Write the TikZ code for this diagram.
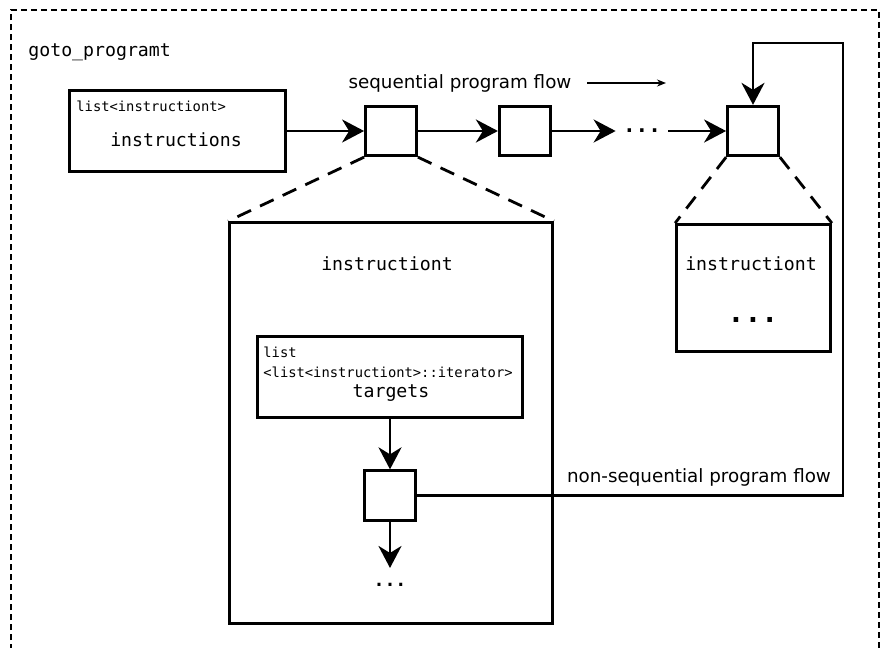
\documentclass[tikz,border=0pt]{standalone}
\usepackage{fontspec}
\setmainfont{DejaVu Sans}
\setmonofont{DejaVu Sans Mono}
\usetikzlibrary{arrows.meta,positioning}

\begin{document}
\begin{tikzpicture}[x=1pt,y=-1pt,>={Stealth[length=22pt,width=23pt,inset=7pt]},
  line width=2.8pt,node distance=80pt,
  cell/.style={draw,rectangle,minimum width=51pt,minimum height=49.5pt,inner sep=0pt},
  holder/.style={draw,rectangle,inner sep=0pt},
  monotext/.style={font=\fontsize{18.2}{20}\selectfont\ttfamily},
  monosmall/.style={font=\fontsize{13.8}{16}\selectfont\ttfamily,anchor=west,inner sep=0pt},
  flowtext/.style={font=\fontsize{18.3}{20}\selectfont},
  zoomline/.style={dash pattern=on 15pt off 10pt}]
\useasboundingbox (0,0) rectangle (884,648);
\clip (0,0) rectangle (884,648);

% outer frame
\draw[line width=2.2pt,dash pattern=on 6pt off 4pt] (11,660) -- (11,10) -- (879,10) -- (879,660);
\node[monotext,anchor=west,inner sep=0pt] (title) at (27,52) {goto\_programt};

% the list
\node[holder,minimum width=216pt,minimum height=81pt] (instr) at (177.5,131) {};
\node[monosmall] (instrtype) at (75,106) {list<instructiont>};
\node[monotext] (instrname) at (176,140) {instructions};

% sequential flow
\node[cell] (c1) at (391,131) {};
\node[cell] (c2) [right=of c1] {};
\node[font=\fontsize{21}{22}\selectfont\ttfamily\bfseries,inner sep=6pt] (seqdots) at (642,131) {...};
\node[cell] (c3) at (753,131) {};
\node[flowtext] (seqlbl) at (460,83) {sequential program flow};
\coordinate (seqfrom) at (587,83);
\coordinate (seqto) at (666,83);
\draw[line width=1.8pt,-{Stealth[length=9pt,width=7pt]}] (seqfrom) -- (seqto);

\path (instr) edge[->] (c1)
(c1) edge[->] (c2)
(c2) edge[->] (seqdots)
(seqdots) edge[->] (c3);

% first instruction
\node[holder,minimum width=323pt,minimum height=401pt] (ibox) at (391,423) {};
\node[monotext] (iname) at (387,264) {instructiont};
\node[holder,minimum width=265pt,minimum height=81pt] (tbox) at (390,377) {};
\node[monosmall] (ttype1) at (262,352) {list};
\node[monosmall] (ttype2) at (262,372) {<list<instructiont>::iterator>};
\node[monotext] (tname) at (391,393) {targets};
\node[cell] (c4) at (390,495.5) {};
\node[monotext,font=\fontsize{18.2}{20}\selectfont\ttfamily\bfseries,inner ysep=14pt] (imore) at (390,585) {...};
\path (tbox) edge[->] (c4)
(c4) edge[->] (imore);
\draw[zoomline] (c1.south west) -- (ibox.north west)
(c1.south east) -- (ibox.north east);

% last instruction
\node[holder,minimum width=154pt,minimum height=127pt] (rbox) at (753.5,288) {};
\node[monotext] (rname) at (751,264) {instructiont};
\node[font=\fontsize{28}{30}\selectfont\ttfamily\bfseries] (rmore) at (753,320) {...};
\draw[zoomline] (c3.south west) -- (rbox.north west)
(c3.south east) -- (rbox.north east);

% jump
\coordinate (loopturn) at (843,43);
\draw[->] (c4.east) -| (loopturn) -| (c3.north);
\node[flowtext] (nslbl) at (699,477) {non-sequential program flow};
\end{tikzpicture}
\end{document}
